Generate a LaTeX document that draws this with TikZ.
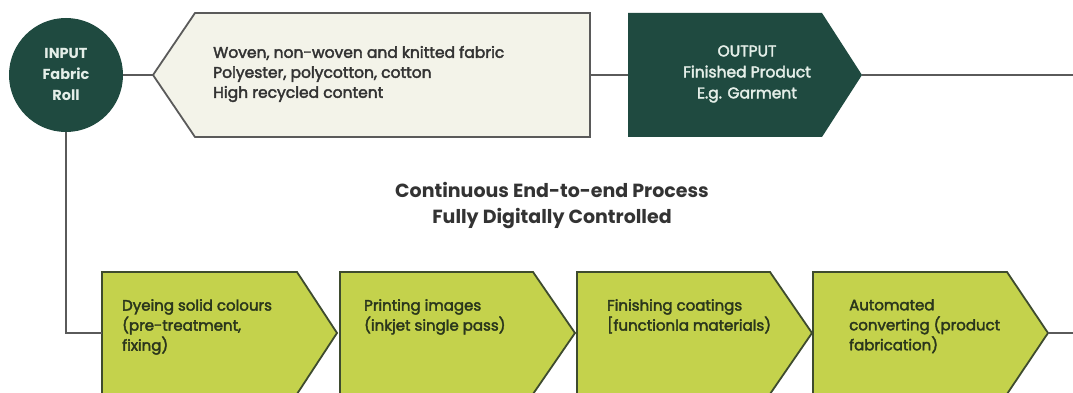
\documentclass[tikz,border=0pt]{standalone}
\usepackage{fontspec}
\setmainfont{Poppins}
\newfontfamily\medfont[RawFeature={embolden=2.5}]{Poppins}
\definecolor{dkgreen}{HTML}{1F4A40}
\definecolor{cream}{HTML}{F3F3E9}
\definecolor{lime}{HTML}{C4D24C}
\definecolor{limeborder}{HTML}{3E4B2E}
\definecolor{limetext}{HTML}{2A361C}
\definecolor{conn}{HTML}{5A5A5A}
\definecolor{graytext}{HTML}{333333}
\definecolor{lighttext}{HTML}{E4EEE8}
\tikzset{
  connector/.style={draw=conn, line width=1.8pt},
  stepshape/.style={fill=lime, draw=limeborder, line width=1.8pt, line join=miter},
  steptext/.style={anchor=north west, align=left, inner sep=0pt, text=limetext, font=\medfont\fontsize{15}{20}\selectfont},
}
\begin{document}
\begin{tikzpicture}[x=1pt,y=-1pt]
\useasboundingbox (0,0) rectangle (1073,393);
\clip (0,0) rectangle (1073,393);
% input circle
\node[circle, fill=dkgreen, minimum size=114pt, inner sep=0pt] (in) at (66,75) {};
\node[align=center, text=lighttext, font=\bfseries\fontsize{14.5}{21}\selectfont, inner sep=0pt] (intext) at (66,74) {INPUT\\Fabric\\Roll};
% input material box
\draw[fill=cream, draw=conn, line width=1.8pt] (153,75) -- (195,13) -- (590,13) -- (590,137) -- (195,137) -- cycle;
\coordinate (matL) at (153,75);
\coordinate (matR) at (590,75);
\node[anchor=west, align=left, text=graytext, font=\medfont\fontsize{15.5}{20}\selectfont, inner sep=0pt] (mattext) at (213,74) {Woven, non-woven and knitted fabric\\Polyester, polycotton, cotton\\High recycled content};
% output box
\fill[dkgreen] (628,13) -- (822,13) -- (862,75) -- (822,137) -- (628,137) -- cycle;
\coordinate (outL) at (628,75);
\coordinate (outR) at (862,75);
\coordinate (topend) at (1073,75);
\node[align=center, text=lighttext, font=\medfont\fontsize{15.5}{21}\selectfont, inner sep=0pt] (outtext) at (747,74) {OUTPUT\\Finished Product\\E.g. Garment};
% connectors top
\draw[connector] (in.east) -- (matL);
\draw[connector] (matR) -- (outL);
\draw[connector] (outR) -- (topend);
% title
\node[align=center, text=graytext, font=\bfseries\fontsize{19}{26}\selectfont, inner sep=0pt] (title) at (552,206) {Continuous End-to-end Process\\Fully Digitally Controlled};
% steps
\draw[stepshape] (102,272) -- (297,272) -- (337,333) -- (297,394) -- (102,394) -- cycle;
\draw[stepshape] (340,272) -- (533,272) -- (575,333) -- (533,394) -- (340,394) -- cycle;
\draw[stepshape] (577,272) -- (770,272) -- (812,333) -- (770,394) -- (577,394) -- cycle;
\draw[stepshape] (813,272) -- (1007,272) -- (1048,333) -- (1007,394) -- (813,394) -- cycle;
\coordinate (s1L) at (102,333);
\coordinate (s4R) at (1048,333);
\coordinate (botend) at (1073,333);
\node[steptext] (t1) at (122,299) {Dyeing solid colours\\(pre-treatment,\\fixing)};
\node[steptext] (t2) at (364,299) {Printing images\\(inkjet single pass)};
\node[steptext] (t3) at (607,299) {Finishing coatings\\{[}functionla materials)};
\node[steptext] (t4) at (849,299) {Automated\\converting (product\\fabrication)};
% connectors bottom
\draw[connector] (in.south) |- (s1L);
\draw[connector] (s4R) -- (botend);
\end{tikzpicture}
\end{document}
